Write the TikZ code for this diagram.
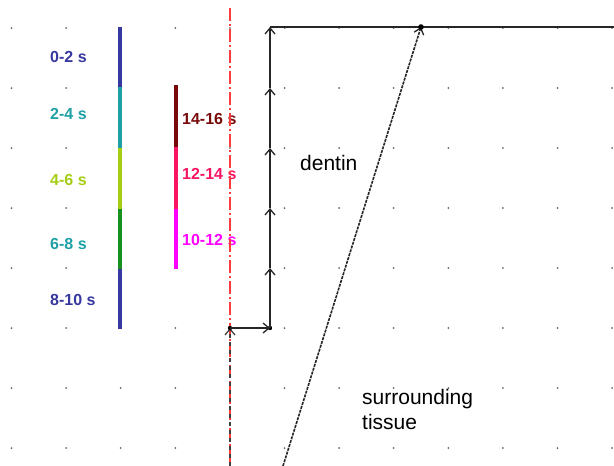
\documentclass[tikz,border=0pt]{standalone}
\usepackage{fontspec}
\setmainfont{Liberation Sans}
\usetikzlibrary{arrows.meta}
\definecolor{cblue}{RGB}{55,55,160}
\definecolor{cteal}{RGB}{30,160,165}
\definecolor{cyg}{RGB}{165,205,20}
\definecolor{cgreen}{RGB}{25,145,30}
\definecolor{cdred}{RGB}{120,10,10}
\definecolor{ccrim}{RGB}{250,20,100}
\definecolor{cmag}{RGB}{255,0,255}
\definecolor{cred}{RGB}{255,60,60}
\tikzset{
  tip/.style={-{Straight Barb[length=6pt,width=10pt,line width=1.3pt]}},
  path/.style={draw=black!85,line width=1.8pt},
  bar/.style={line width=4pt},
  lab/.style={font=\fontsize{16}{19}\selectfont\bfseries,anchor=west,inner sep=0pt},
  txt/.style={font=\fontsize{21}{25}\selectfont,anchor=west,inner sep=0pt,align=left},
  gdot/.style={fill=black!60}
}
\begin{document}
\begin{tikzpicture}[x=1pt,y=-1pt]
\useasboundingbox (0,0) rectangle (614,466);
% grid dots
\foreach \i in {0,...,11}{
  \foreach \j in {0,...,7}{
    \fill[gdot] ({11.5+54.6*\i},{28+60*\j}) circle (1);
  }
}
% coordinates
\coordinate (b0) at (120,27);
\coordinate (b1) at (120,87);
\coordinate (b2) at (120,148);
\coordinate (b3) at (120,209);
\coordinate (b4) at (120,269);
\coordinate (b5) at (120,329);
\coordinate (c0) at (175.5,85);
\coordinate (c1) at (175.5,147);
\coordinate (c2) at (175.5,209);
\coordinate (c3) at (175.5,269);
% left bar
\draw[bar,cblue] (b0) -- (b1);
\draw[bar,cteal] (b1) -- (b2);
\draw[bar,cyg] (b2) -- (b3);
\draw[bar,cgreen] (b3) -- (b4);
\draw[bar,cblue] (b4) -- (b5);
% right bar
\draw[bar,cdred] (c0) -- (c1);
\draw[bar,ccrim] (c1) -- (c2);
\draw[bar,cmag] (c2) -- (c3);
% labels
\node[lab,text=cblue] (l1) at (50,57) {0-2 s};
\node[lab,text=cteal] (l2) at (50,114) {2-4 s};
\node[lab,text=cyg] (l3) at (50,180) {4-6 s};
\node[lab,text=cteal] (l4) at (50,244) {6-8 s};
\node[lab,text=cblue] (l5) at (50,300) {8-10 s};
\node[lab,text=cdred] (m1) at (182,119) {14-16 s};
\node[lab,text=ccrim] (m2) at (182,174) {12-14 s};
\node[lab,text=cmag] (m3) at (182,240) {10-12 s};
% axis line
\coordinate (rtop) at (230,8);
\coordinate (rbot) at (230,466);
\coordinate (p0) at (230,328);
\draw[cred,line width=1.7pt,dash pattern=on 13pt off 3pt on 2pt off 3pt] (rtop) -- (rbot);
\draw[black!75,line width=1.7pt,dash pattern=on 4pt off 4pt,tip] (rbot) -- (p0);
% path
\coordinate (p1) at (270,328);
\coordinate (p2) at (270,268);
\coordinate (p3) at (270,208);
\coordinate (p4) at (270,148);
\coordinate (p5) at (270,88);
\coordinate (p6) at (270,27);
\coordinate (p7) at (614,27);
\fill (p0) circle (2.2);
\fill (p1) circle (2.2);
\draw[path,tip] (p0) -- (p1);
\draw[path,tip] (p1) -- (p2);
\draw[path,tip] (p2) -- (p3);
\draw[path,tip] (p3) -- (p4);
\draw[path,tip] (p4) -- (p5);
\draw[path,tip] (p5) -- (p6);
\draw[path] (p6) -- (p7);
% diagonal
\coordinate (d0) at (283,466);
\coordinate (d1) at (421,27);
\draw[black!85,line width=1.6pt,dash pattern=on 3pt off 1pt,tip] (d0) -- (d1);
\fill (d1) circle (2.8);
% texts
\node[txt] (dentin) at (300,163) {dentin};
\node[txt] (tissue) at (362,409) {surrounding\\tissue};
\end{tikzpicture}
\end{document}
